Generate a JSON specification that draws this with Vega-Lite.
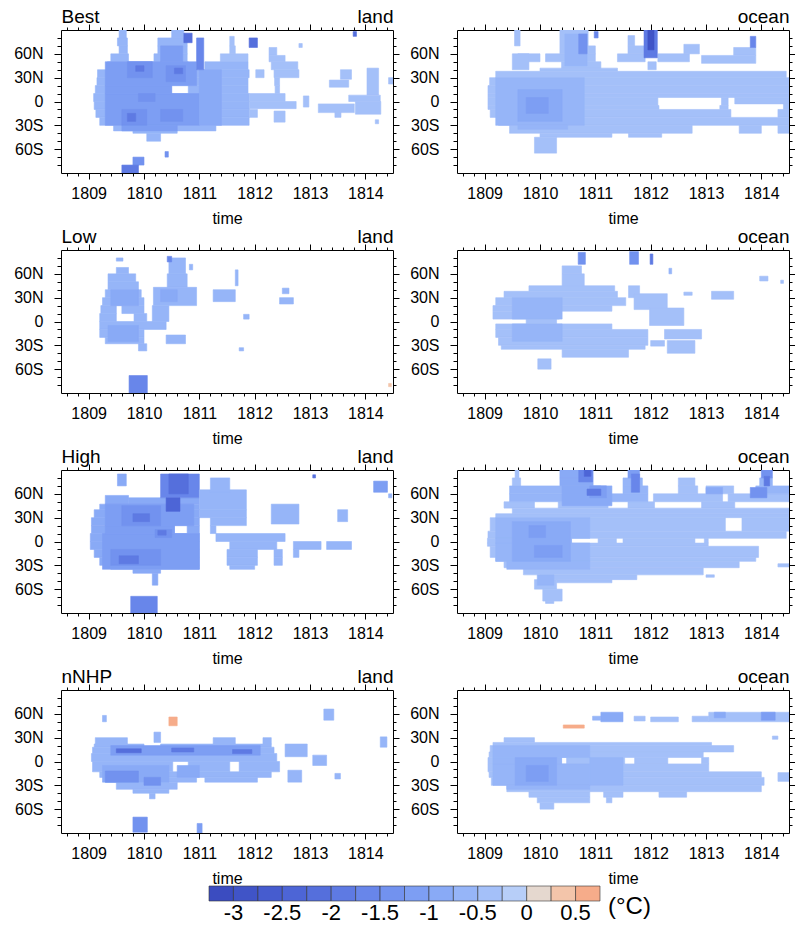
{
"$schema":"https://vega.github.io/schema/vega-lite/v6.json",
"padding":{"left":13,"top":7,"right":0,"bottom":2},
"background":"white",
"config":{"font":"Liberation Sans","view":{"stroke":null},
 "axis":{"grid":false,"domainColor":"black","domainWidth":1,"tickColor":"black","tickWidth":1,"labelColor":"black","labelFontSize":16,"titleColor":"black","titleFontWeight":"normal","labelFlush":false,"labelOverlap":false,"zindex":1}},
"data":{"values":[
{"p":1,"y0":80,"y1":90,"t0":1809.55,"t1":1809.68,"v":-0.625},
{"p":1,"y0":80,"y1":90,"t0":1810.5,"t1":1810.72,"v":-0.625},
{"p":1,"y0":70,"y1":80,"t0":1809.52,"t1":1809.7,"v":-0.625},
{"p":1,"y0":70,"y1":80,"t0":1810.25,"t1":1810.78,"v":-0.625},
{"p":1,"y0":70,"y1":82,"t0":1811.55,"t1":1811.63,"v":-0.375},
{"p":1,"y0":60,"y1":70,"t0":1809.55,"t1":1809.7,"v":-0.625},
{"p":1,"y0":60,"y1":70,"t0":1810.25,"t1":1810.78,"v":-0.625},
{"p":1,"y0":60,"y1":70,"t0":1811.55,"t1":1811.65,"v":-0.375},
{"p":1,"y0":58,"y1":68,"t0":1812.26,"t1":1812.4,"v":-0.375},
{"p":1,"y0":50,"y1":60,"t0":1809.4,"t1":1809.72,"v":-0.625},
{"p":1,"y0":50,"y1":60,"t0":1810.18,"t1":1810.78,"v":-0.625},
{"p":1,"y0":50,"y1":60,"t0":1811.38,"t1":1811.88,"v":-0.375},
{"p":1,"y0":50,"y1":58,"t0":1812.26,"t1":1812.55,"v":-0.375},
{"p":1,"y0":40,"y1":50,"t0":1809.34,"t1":1810.8,"v":-0.625},
{"p":1,"y0":40,"y1":50,"t0":1811.1,"t1":1811.88,"v":-0.625},
{"p":1,"y0":40,"y1":50,"t0":1812.3,"t1":1812.78,"v":-0.375},
{"p":1,"y0":30,"y1":40,"t0":1809.16,"t1":1811.9,"v":-0.625},
{"p":1,"y0":30,"y1":40,"t0":1812.02,"t1":1812.17,"v":-0.375},
{"p":1,"y0":30,"y1":40,"t0":1812.35,"t1":1812.8,"v":-0.375},
{"p":1,"y0":28,"y1":40,"t0":1813.55,"t1":1813.75,"v":-0.375},
{"p":1,"y0":8,"y1":42,"t0":1814.03,"t1":1814.24,"v":-0.375},
{"p":1,"y0":20,"y1":30,"t0":1809.15,"t1":1811.88,"v":-0.625},
{"p":1,"y0":20,"y1":30,"t0":1812.36,"t1":1812.45,"v":-0.375},
{"p":1,"y0":18,"y1":27,"t0":1813.35,"t1":1813.7,"v":-0.375},
{"p":1,"y0":22,"y1":30,"t0":1814.42,"t1":1814.5,"v":-0.375},
{"p":1,"y0":10,"y1":20,"t0":1809.12,"t1":1810.5,"v":-0.625},
{"p":1,"y0":10,"y1":20,"t0":1810.8,"t1":1811.88,"v":-0.625},
{"p":1,"y0":10,"y1":20,"t0":1812.37,"t1":1812.45,"v":-0.375},
{"p":1,"y0":0,"y1":10,"t0":1809.09,"t1":1811.9,"v":-0.625},
{"p":1,"y0":0,"y1":10,"t0":1811.9,"t1":1812.55,"v":-0.375},
{"p":1,"y0":-7,"y1":7,"t0":1812.88,"t1":1812.98,"v":-0.375},
{"p":1,"y0":0,"y1":8,"t0":1813.7,"t1":1814.27,"v":-0.375},
{"p":1,"y0":-10,"y1":0,"t0":1809.1,"t1":1811.9,"v":-0.625},
{"p":1,"y0":-9,"y1":0,"t0":1811.9,"t1":1812.75,"v":-0.375},
{"p":1,"y0":-14,"y1":-3,"t0":1813.15,"t1":1813.8,"v":-0.375},
{"p":1,"y0":-16,"y1":0,"t0":1813.82,"t1":1814.28,"v":-0.375},
{"p":1,"y0":-20,"y1":-10,"t0":1809.13,"t1":1811.9,"v":-0.625},
{"p":1,"y0":-20,"y1":-10,"t0":1811.9,"t1":1812.05,"v":-0.375},
{"p":1,"y0":-26,"y1":-12,"t0":1812.35,"t1":1812.55,"v":-0.375},
{"p":1,"y0":-20,"y1":-13,"t0":1813.45,"t1":1813.56,"v":-0.375},
{"p":1,"y0":-30,"y1":-20,"t0":1809.2,"t1":1811.9,"v":-0.625},
{"p":1,"y0":-28,"y1":-23,"t0":1814.18,"t1":1814.24,"v":-0.375},
{"p":1,"y0":-37,"y1":-30,"t0":1809.45,"t1":1811.3,"v":-0.625},
{"p":1,"y0":-40,"y1":-37,"t0":1809.8,"t1":1810.6,"v":-0.625},
{"p":1,"y0":-50,"y1":-40,"t0":1810.05,"t1":1810.3,"v":-0.625},
{"p":1,"y0":-70,"y1":-63,"t0":1810.38,"t1":1810.44,"v":-1.375},
{"p":1,"y0":-80,"y1":-70,"t0":1809.8,"t1":1810.0,"v":-1.375},
{"p":1,"y0":-90,"y1":-80,"t0":1809.6,"t1":1809.9,"v":-1.875},
{"p":1,"y0":82,"y1":88,"t0":1813.78,"t1":1813.84,"v":-2.125},
{"p":1,"y0":68,"y1":73,"t0":1812.8,"t1":1812.86,"v":-0.375},
{"p":1,"y0":20,"y1":50,"t0":1809.3,"t1":1810.95,"v":-1.125},
{"p":1,"y0":-30,"y1":10,"t0":1809.3,"t1":1811.0,"v":-1.125},
{"p":1,"y0":10,"y1":20,"t0":1809.3,"t1":1810.5,"v":-1.125},
{"p":1,"y0":-37,"y1":-30,"t0":1809.6,"t1":1810.6,"v":-1.125},
{"p":1,"y0":50,"y1":70,"t0":1810.3,"t1":1810.7,"v":-1.125},
{"p":1,"y0":-30,"y1":40,"t0":1811.0,"t1":1811.4,"v":-0.875},
{"p":1,"y0":30,"y1":50,"t0":1809.7,"t1":1810.15,"v":-1.375},
{"p":1,"y0":25,"y1":45,"t0":1810.4,"t1":1810.75,"v":-1.375},
{"p":1,"y0":-30,"y1":-10,"t0":1809.6,"t1":1810.05,"v":-1.375},
{"p":1,"y0":-25,"y1":-10,"t0":1810.3,"t1":1810.7,"v":-1.375},
{"p":1,"y0":0,"y1":10,"t0":1809.9,"t1":1810.2,"v":-1.375},
{"p":1,"y0":38,"y1":45,"t0":1809.85,"t1":1810.0,"v":-1.875},
{"p":1,"y0":-25,"y1":-15,"t0":1809.7,"t1":1809.85,"v":-1.875},
{"p":1,"y0":35,"y1":42,"t0":1810.55,"t1":1810.7,"v":-1.875},
{"p":1,"y0":40,"y1":80,"t0":1810.95,"t1":1811.08,"v":-1.625},
{"p":1,"y0":74,"y1":86,"t0":1810.72,"t1":1810.87,"v":-2.125},
{"p":1,"y0":68,"y1":80,"t0":1811.9,"t1":1812.05,"v":-2.125},

{"p":2,"y0":70,"y1":90,"t0":1809.54,"t1":1809.64,"v":-0.375},
{"p":2,"y0":60,"y1":90,"t0":1810.36,"t1":1810.87,"v":-0.375},
{"p":2,"y0":70,"y1":83,"t0":1811.59,"t1":1811.71,"v":-0.375},
{"p":2,"y0":60,"y1":70,"t0":1810.87,"t1":1811.0,"v":-0.375},
{"p":2,"y0":60,"y1":70,"t0":1811.59,"t1":1811.89,"v":-0.375},
{"p":2,"y0":60,"y1":72,"t0":1812.6,"t1":1812.88,"v":-0.375},
{"p":2,"y0":58,"y1":68,"t0":1813.5,"t1":1813.9,"v":-0.375},
{"p":2,"y0":50,"y1":60,"t0":1809.6,"t1":1810.0,"v":-0.375},
{"p":2,"y0":50,"y1":60,"t0":1810.1,"t1":1811.0,"v":-0.375},
{"p":2,"y0":50,"y1":60,"t0":1811.4,"t1":1811.9,"v":-0.375},
{"p":2,"y0":50,"y1":60,"t0":1812.13,"t1":1812.7,"v":-0.375},
{"p":2,"y0":48,"y1":58,"t0":1812.92,"t1":1813.9,"v":-0.375},
{"p":2,"y0":40,"y1":60,"t0":1809.5,"t1":1809.8,"v":-0.375},
{"p":2,"y0":40,"y1":50,"t0":1810.39,"t1":1811.1,"v":-0.375},
{"p":2,"y0":40,"y1":50,"t0":1811.95,"t1":1812.1,"v":-0.375},
{"p":2,"y0":38,"y1":42,"t0":1810.0,"t1":1811.4,"v":-0.375},
{"p":2,"y0":30,"y1":38,"t0":1809.2,"t1":1814.45,"v":-0.375},
{"p":2,"y0":20,"y1":30,"t0":1809.09,"t1":1814.5,"v":-0.375},
{"p":2,"y0":10,"y1":20,"t0":1809.06,"t1":1814.5,"v":-0.375},
{"p":2,"y0":5,"y1":10,"t0":1809.06,"t1":1814.5,"v":-0.375},
{"p":2,"y0":-5,"y1":5,"t0":1809.06,"t1":1812.13,"v":-0.375},
{"p":2,"y0":-5,"y1":5,"t0":1813.28,"t1":1813.4,"v":-0.375},
{"p":2,"y0":-3,"y1":5,"t0":1813.52,"t1":1814.5,"v":-0.375},
{"p":2,"y0":-10,"y1":-5,"t0":1809.06,"t1":1812.15,"v":-0.375},
{"p":2,"y0":-10,"y1":-5,"t0":1813.25,"t1":1813.4,"v":-0.375},
{"p":2,"y0":-10,"y1":-3,"t0":1814.4,"t1":1814.5,"v":-0.375},
{"p":2,"y0":-20,"y1":-10,"t0":1809.1,"t1":1813.45,"v":-0.375},
{"p":2,"y0":-20,"y1":-10,"t0":1814.3,"t1":1814.5,"v":-0.375},
{"p":2,"y0":-30,"y1":-20,"t0":1809.25,"t1":1814.5,"v":-0.375},
{"p":2,"y0":-40,"y1":-30,"t0":1809.45,"t1":1812.75,"v":-0.375},
{"p":2,"y0":-40,"y1":-30,"t0":1813.6,"t1":1814.0,"v":-0.375},
{"p":2,"y0":-40,"y1":-30,"t0":1814.3,"t1":1814.5,"v":-0.375},
{"p":2,"y0":-45,"y1":-40,"t0":1810.0,"t1":1811.3,"v":-0.375},
{"p":2,"y0":-45,"y1":-40,"t0":1811.6,"t1":1812.2,"v":-0.375},
{"p":2,"y0":-65,"y1":-45,"t0":1809.9,"t1":1810.3,"v":-0.375},
{"p":2,"y0":-30,"y1":30,"t0":1809.2,"t1":1810.8,"v":-0.625},
{"p":2,"y0":-35,"y1":-30,"t0":1809.6,"t1":1810.5,"v":-0.625},
{"p":2,"y0":45,"y1":85,"t0":1810.45,"t1":1810.85,"v":-0.625},
{"p":2,"y0":-25,"y1":15,"t0":1809.6,"t1":1810.4,"v":-0.875},
{"p":2,"y0":-15,"y1":5,"t0":1809.75,"t1":1810.15,"v":-1.125},
{"p":2,"y0":60,"y1":85,"t0":1810.7,"t1":1810.85,"v":-1.375},
{"p":2,"y0":80,"y1":88,"t0":1810.98,"t1":1811.05,"v":-1.625},
{"p":2,"y0":68,"y1":82,"t0":1813.8,"t1":1813.9,"v":-1.625},
{"p":2,"y0":55,"y1":90,"t0":1811.88,"t1":1812.12,"v":-1.875},
{"p":2,"y0":65,"y1":90,"t0":1811.95,"t1":1812.06,"v":-2.875},

{"p":3,"y0":76,"y1":80,"t0":1809.5,"t1":1809.62,"v":-0.625},
{"p":3,"y0":60,"y1":68,"t0":1809.5,"t1":1809.72,"v":-0.625},
{"p":3,"y0":50,"y1":60,"t0":1809.35,"t1":1809.85,"v":-0.625},
{"p":3,"y0":40,"y1":50,"t0":1809.35,"t1":1809.9,"v":-0.625},
{"p":3,"y0":30,"y1":40,"t0":1809.3,"t1":1809.95,"v":-0.625},
{"p":3,"y0":20,"y1":30,"t0":1809.25,"t1":1810.0,"v":-0.625},
{"p":3,"y0":10,"y1":20,"t0":1809.22,"t1":1809.5,"v":-0.625},
{"p":3,"y0":10,"y1":20,"t0":1809.6,"t1":1810.0,"v":-0.625},
{"p":3,"y0":0,"y1":10,"t0":1809.2,"t1":1809.5,"v":-0.625},
{"p":3,"y0":0,"y1":10,"t0":1809.82,"t1":1810.05,"v":-0.625},
{"p":3,"y0":-10,"y1":0,"t0":1809.2,"t1":1810.4,"v":-0.625},
{"p":3,"y0":-20,"y1":-10,"t0":1809.2,"t1":1810.0,"v":-0.625},
{"p":3,"y0":-28,"y1":-20,"t0":1809.3,"t1":1810.0,"v":-0.625},
{"p":3,"y0":-37,"y1":-28,"t0":1809.9,"t1":1810.05,"v":-0.625},
{"p":3,"y0":60,"y1":80,"t0":1810.45,"t1":1810.75,"v":-0.625},
{"p":3,"y0":43,"y1":60,"t0":1810.42,"t1":1810.78,"v":-0.625},
{"p":3,"y0":20,"y1":43,"t0":1810.17,"t1":1810.95,"v":-0.625},
{"p":3,"y0":0,"y1":20,"t0":1810.15,"t1":1810.45,"v":-0.625},
{"p":3,"y0":-28,"y1":-17,"t0":1810.4,"t1":1810.75,"v":-0.625},
{"p":3,"y0":65,"y1":72,"t0":1810.82,"t1":1810.88,"v":-0.625},
{"p":3,"y0":25,"y1":40,"t0":1811.25,"t1":1811.65,"v":-0.625},
{"p":3,"y0":45,"y1":65,"t0":1811.65,"t1":1811.7,"v":-0.625},
{"p":3,"y0":3,"y1":9,"t0":1811.8,"t1":1811.9,"v":-0.625},
{"p":3,"y0":-37,"y1":-33,"t0":1811.72,"t1":1811.8,"v":-0.625},
{"p":3,"y0":35,"y1":42,"t0":1812.5,"t1":1812.62,"v":-0.625},
{"p":3,"y0":22,"y1":30,"t0":1812.45,"t1":1812.7,"v":-0.625},
{"p":3,"y0":-90,"y1":-68,"t0":1809.73,"t1":1810.06,"v":-1.625},
{"p":3,"y0":75,"y1":82,"t0":1810.42,"t1":1810.5,"v":-1.625},
{"p":3,"y0":-82,"y1":-78,"t0":1814.42,"t1":1814.47,"v":0.375},
{"p":3,"y0":20,"y1":40,"t0":1809.4,"t1":1809.9,"v":-0.875},
{"p":3,"y0":-25,"y1":-5,"t0":1809.35,"t1":1809.9,"v":-0.875},
{"p":3,"y0":25,"y1":40,"t0":1810.3,"t1":1810.6,"v":-0.875},

{"p":4,"y0":60,"y1":70,"t0":1810.4,"t1":1810.75,"v":-0.375},
{"p":4,"y0":43,"y1":60,"t0":1810.4,"t1":1810.8,"v":-0.375},
{"p":4,"y0":38,"y1":45,"t0":1809.8,"t1":1811.35,"v":-0.375},
{"p":4,"y0":30,"y1":38,"t0":1809.35,"t1":1811.4,"v":-0.375},
{"p":4,"y0":20,"y1":30,"t0":1809.2,"t1":1811.55,"v":-0.375},
{"p":4,"y0":30,"y1":45,"t0":1811.6,"t1":1811.8,"v":-0.375},
{"p":4,"y0":15,"y1":35,"t0":1811.7,"t1":1812.3,"v":-0.375},
{"p":4,"y0":13,"y1":20,"t0":1809.15,"t1":1811.3,"v":-0.375},
{"p":4,"y0":3,"y1":13,"t0":1809.15,"t1":1810.35,"v":-0.375},
{"p":4,"y0":-3,"y1":3,"t0":1809.75,"t1":1810.3,"v":-0.375},
{"p":4,"y0":-10,"y1":-3,"t0":1809.2,"t1":1811.3,"v":-0.375},
{"p":4,"y0":-20,"y1":-10,"t0":1809.2,"t1":1811.95,"v":-0.375},
{"p":4,"y0":-30,"y1":-20,"t0":1809.25,"t1":1811.95,"v":-0.375},
{"p":4,"y0":-35,"y1":-30,"t0":1809.3,"t1":1811.9,"v":-0.375},
{"p":4,"y0":-45,"y1":-35,"t0":1810.4,"t1":1811.6,"v":-0.375},
{"p":4,"y0":-5,"y1":17,"t0":1811.98,"t1":1812.6,"v":-0.375},
{"p":4,"y0":-22,"y1":-10,"t0":1812.25,"t1":1812.92,"v":-0.375},
{"p":4,"y0":-31,"y1":-24,"t0":1812.0,"t1":1812.25,"v":-0.375},
{"p":4,"y0":-40,"y1":-24,"t0":1812.3,"t1":1812.8,"v":-0.375},
{"p":4,"y0":28,"y1":38,"t0":1813.1,"t1":1813.5,"v":-0.375},
{"p":4,"y0":33,"y1":37,"t0":1812.6,"t1":1812.75,"v":-0.375},
{"p":4,"y0":51,"y1":57,"t0":1813.97,"t1":1814.12,"v":-0.375},
{"p":4,"y0":48,"y1":52,"t0":1814.35,"t1":1814.4,"v":-0.375},
{"p":4,"y0":-60,"y1":-47,"t0":1809.96,"t1":1810.2,"v":-0.375},
{"p":4,"y0":60,"y1":67,"t0":1812.33,"t1":1812.38,"v":-0.625},
{"p":4,"y0":72,"y1":87,"t0":1810.69,"t1":1810.82,"v":-1.375},
{"p":4,"y0":72,"y1":88,"t0":1811.62,"t1":1811.78,"v":-1.375},
{"p":4,"y0":72,"y1":85,"t0":1811.99,"t1":1812.04,"v":-1.875},
{"p":4,"y0":3,"y1":30,"t0":1809.5,"t1":1810.4,"v":-0.625},
{"p":4,"y0":-25,"y1":-3,"t0":1809.5,"t1":1810.4,"v":-0.625},

{"p":5,"y0":70,"y1":85,"t0":1809.52,"t1":1809.68,"v":-0.875},
{"p":5,"y0":47,"y1":58,"t0":1809.3,"t1":1809.72,"v":-0.875},
{"p":5,"y0":47,"y1":55,"t0":1809.72,"t1":1811.0,"v":-0.875},
{"p":5,"y0":55,"y1":85,"t0":1810.3,"t1":1811.0,"v":-1.625},
{"p":5,"y0":40,"y1":47,"t0":1809.2,"t1":1811.0,"v":-0.875},
{"p":5,"y0":40,"y1":65,"t0":1811.0,"t1":1811.85,"v":-0.625},
{"p":5,"y0":62,"y1":80,"t0":1811.2,"t1":1811.55,"v":-0.625},
{"p":5,"y0":30,"y1":40,"t0":1809.1,"t1":1811.0,"v":-0.875},
{"p":5,"y0":30,"y1":40,"t0":1811.0,"t1":1811.85,"v":-0.625},
{"p":5,"y0":20,"y1":30,"t0":1809.05,"t1":1811.0,"v":-0.875},
{"p":5,"y0":20,"y1":30,"t0":1811.2,"t1":1811.85,"v":-0.625},
{"p":5,"y0":10,"y1":20,"t0":1809.05,"t1":1810.55,"v":-0.875},
{"p":5,"y0":10,"y1":20,"t0":1810.78,"t1":1811.0,"v":-0.875},
{"p":5,"y0":10,"y1":20,"t0":1811.2,"t1":1811.3,"v":-0.625},
{"p":5,"y0":0,"y1":10,"t0":1809.03,"t1":1811.0,"v":-0.875},
{"p":5,"y0":0,"y1":10,"t0":1811.3,"t1":1812.55,"v":-0.625},
{"p":5,"y0":-10,"y1":0,"t0":1809.03,"t1":1811.0,"v":-0.875},
{"p":5,"y0":-10,"y1":0,"t0":1811.55,"t1":1812.4,"v":-0.625},
{"p":5,"y0":-10,"y1":0,"t0":1812.7,"t1":1813.2,"v":-0.625},
{"p":5,"y0":-10,"y1":0,"t0":1813.3,"t1":1813.75,"v":-0.625},
{"p":5,"y0":-20,"y1":-10,"t0":1809.1,"t1":1811.0,"v":-0.875},
{"p":5,"y0":-20,"y1":-10,"t0":1811.5,"t1":1812.05,"v":-0.625},
{"p":5,"y0":-20,"y1":-10,"t0":1812.35,"t1":1812.5,"v":-0.625},
{"p":5,"y0":-20,"y1":-10,"t0":1812.7,"t1":1812.8,"v":-0.625},
{"p":5,"y0":-30,"y1":-20,"t0":1809.2,"t1":1811.0,"v":-0.875},
{"p":5,"y0":-30,"y1":-20,"t0":1811.5,"t1":1812.05,"v":-0.625},
{"p":5,"y0":-30,"y1":-20,"t0":1812.35,"t1":1812.5,"v":-0.625},
{"p":5,"y0":-35,"y1":-30,"t0":1809.4,"t1":1811.0,"v":-0.875},
{"p":5,"y0":-35,"y1":-30,"t0":1811.55,"t1":1812.0,"v":-0.625},
{"p":5,"y0":-40,"y1":-35,"t0":1809.8,"t1":1810.3,"v":-0.875},
{"p":5,"y0":-55,"y1":-40,"t0":1810.15,"t1":1810.25,"v":-0.875},
{"p":5,"y0":-90,"y1":-69,"t0":1809.76,"t1":1810.24,"v":-1.625},
{"p":5,"y0":22,"y1":47,"t0":1812.3,"t1":1812.8,"v":-0.625},
{"p":5,"y0":25,"y1":40,"t0":1813.5,"t1":1813.68,"v":-0.625},
{"p":5,"y0":62,"y1":76,"t0":1814.15,"t1":1814.4,"v":-1.125},
{"p":5,"y0":55,"y1":60,"t0":1814.42,"t1":1814.48,"v":-0.625},
{"p":5,"y0":80,"y1":84,"t0":1813.05,"t1":1813.1,"v":-2.125},
{"p":5,"y0":-35,"y1":10,"t0":1809.25,"t1":1811.0,"v":-1.125},
{"p":5,"y0":20,"y1":47,"t0":1809.3,"t1":1810.9,"v":-1.125},
{"p":5,"y0":10,"y1":20,"t0":1809.3,"t1":1810.55,"v":-1.125},
{"p":5,"y0":-30,"y1":-10,"t0":1809.4,"t1":1810.3,"v":-1.375},
{"p":5,"y0":20,"y1":45,"t0":1809.6,"t1":1810.3,"v":-1.375},
{"p":5,"y0":5,"y1":15,"t0":1810.2,"t1":1810.5,"v":-1.375},
{"p":5,"y0":-28,"y1":-18,"t0":1809.55,"t1":1809.9,"v":-1.875},
{"p":5,"y0":25,"y1":35,"t0":1809.8,"t1":1810.1,"v":-1.875},
{"p":5,"y0":8,"y1":14,"t0":1810.25,"t1":1810.4,"v":-1.875},
{"p":5,"y0":60,"y1":85,"t0":1810.45,"t1":1810.8,"v":-2.125},
{"p":5,"y0":38,"y1":55,"t0":1810.4,"t1":1810.65,"v":-2.375},

{"p":6,"y0":80,"y1":90,"t0":1809.55,"t1":1809.62,"v":-0.375},
{"p":6,"y0":70,"y1":80,"t0":1809.5,"t1":1809.65,"v":-0.375},
{"p":6,"y0":70,"y1":80,"t0":1812.5,"t1":1812.8,"v":-0.375},
{"p":6,"y0":60,"y1":70,"t0":1812.5,"t1":1812.85,"v":-0.375},
{"p":6,"y0":60,"y1":70,"t0":1813.0,"t1":1813.5,"v":-0.375},
{"p":6,"y0":50,"y1":60,"t0":1812.05,"t1":1813.3,"v":-0.375},
{"p":6,"y0":50,"y1":60,"t0":1813.4,"t1":1814.5,"v":-0.375},
{"p":6,"y0":42,"y1":50,"t0":1809.35,"t1":1809.9,"v":-0.375},
{"p":6,"y0":42,"y1":50,"t0":1810.33,"t1":1811.23,"v":-0.375},
{"p":6,"y0":42,"y1":50,"t0":1811.59,"t1":1812.07,"v":-0.375},
{"p":6,"y0":42,"y1":50,"t0":1812.92,"t1":1813.52,"v":-0.375},
{"p":6,"y0":35,"y1":42,"t0":1809.5,"t1":1814.5,"v":-0.375},
{"p":6,"y0":30,"y1":35,"t0":1809.2,"t1":1814.5,"v":-0.375},
{"p":6,"y0":13,"y1":30,"t0":1809.1,"t1":1813.35,"v":-0.375},
{"p":6,"y0":13,"y1":30,"t0":1813.65,"t1":1814.5,"v":-0.375},
{"p":6,"y0":4,"y1":13,"t0":1809.06,"t1":1814.45,"v":-0.375},
{"p":6,"y0":-2,"y1":4,"t0":1809.05,"t1":1810.57,"v":-0.375},
{"p":6,"y0":-2,"y1":4,"t0":1811.05,"t1":1811.38,"v":-0.375},
{"p":6,"y0":-2,"y1":4,"t0":1811.5,"t1":1812.8,"v":-0.375},
{"p":6,"y0":-2,"y1":4,"t0":1812.97,"t1":1813.04,"v":-0.375},
{"p":6,"y0":-6,"y1":-2,"t0":1809.05,"t1":1813.04,"v":-0.375},
{"p":6,"y0":-20,"y1":-6,"t0":1809.1,"t1":1813.95,"v":-0.375},
{"p":6,"y0":-25,"y1":-20,"t0":1809.2,"t1":1813.9,"v":-0.375},
{"p":6,"y0":-33,"y1":-25,"t0":1809.35,"t1":1813.6,"v":-0.375},
{"p":6,"y0":-32,"y1":-28,"t0":1814.3,"t1":1814.5,"v":-0.375},
{"p":6,"y0":-42,"y1":-33,"t0":1809.7,"t1":1812.95,"v":-0.375},
{"p":6,"y0":-48,"y1":-42,"t0":1810.0,"t1":1811.75,"v":-0.375},
{"p":6,"y0":-52,"y1":-48,"t0":1810.3,"t1":1811.3,"v":-0.375},
{"p":6,"y0":-60,"y1":-48,"t0":1809.9,"t1":1810.3,"v":-0.375},
{"p":6,"y0":-75,"y1":-60,"t0":1810.05,"t1":1810.4,"v":-0.375},
{"p":6,"y0":-78,"y1":-75,"t0":1810.1,"t1":1810.25,"v":-0.375},
{"p":6,"y0":-45,"y1":-42,"t0":1813.0,"t1":1813.15,"v":-0.375},
{"p":6,"y0":80,"y1":90,"t0":1810.36,"t1":1810.96,"v":-0.875},
{"p":6,"y0":70,"y1":80,"t0":1810.36,"t1":1810.96,"v":-0.875},
{"p":6,"y0":60,"y1":70,"t0":1809.45,"t1":1811.1,"v":-0.625},
{"p":6,"y0":70,"y1":80,"t0":1811.5,"t1":1811.85,"v":-0.625},
{"p":6,"y0":60,"y1":70,"t0":1811.5,"t1":1811.95,"v":-0.625},
{"p":6,"y0":70,"y1":80,"t0":1813.97,"t1":1814.2,"v":-0.625},
{"p":6,"y0":60,"y1":70,"t0":1813.9,"t1":1814.5,"v":-0.625},
{"p":6,"y0":50,"y1":60,"t0":1809.45,"t1":1811.95,"v":-0.625},
{"p":6,"y0":80,"y1":90,"t0":1811.59,"t1":1811.8,"v":-1.125},
{"p":6,"y0":80,"y1":90,"t0":1814.0,"t1":1814.2,"v":-1.375},
{"p":6,"y0":4,"y1":30,"t0":1809.2,"t1":1810.9,"v":-0.625},
{"p":6,"y0":-25,"y1":-2,"t0":1809.2,"t1":1810.9,"v":-0.625},
{"p":6,"y0":-35,"y1":-25,"t0":1809.4,"t1":1810.9,"v":-0.625},
{"p":6,"y0":-2,"y1":4,"t0":1809.2,"t1":1810.57,"v":-0.625},
{"p":6,"y0":-55,"y1":-42,"t0":1809.95,"t1":1810.25,"v":-0.625},
{"p":6,"y0":-25,"y1":25,"t0":1809.5,"t1":1810.55,"v":-0.875},
{"p":6,"y0":45,"y1":70,"t0":1810.4,"t1":1811.3,"v":-0.875},
{"p":6,"y0":60,"y1":68,"t0":1813.0,"t1":1813.3,"v":-0.875},
{"p":6,"y0":5,"y1":20,"t0":1809.8,"t1":1810.1,"v":-1.125},
{"p":6,"y0":-20,"y1":-5,"t0":1809.9,"t1":1810.4,"v":-1.125},
{"p":6,"y0":55,"y1":70,"t0":1810.9,"t1":1811.2,"v":-1.125},
{"p":6,"y0":55,"y1":68,"t0":1813.8,"t1":1814.1,"v":-1.375},
{"p":6,"y0":75,"y1":90,"t0":1810.7,"t1":1810.95,"v":-1.625},
{"p":6,"y0":62,"y1":85,"t0":1811.65,"t1":1811.8,"v":-1.625},
{"p":6,"y0":58,"y1":66,"t0":1810.85,"t1":1811.1,"v":-1.875},
{"p":6,"y0":70,"y1":82,"t0":1814.05,"t1":1814.15,"v":-1.875},
{"p":6,"y0":82,"y1":90,"t0":1810.8,"t1":1810.92,"v":-2.375},

{"p":7,"y0":22,"y1":30,"t0":1809.12,"t1":1809.7,"v":-0.625},
{"p":7,"y0":22,"y1":30,"t0":1811.25,"t1":1811.65,"v":-0.625},
{"p":7,"y0":22,"y1":30,"t0":1812.15,"t1":1812.3,"v":-0.625},
{"p":7,"y0":18,"y1":22,"t0":1809.1,"t1":1810.0,"v":-0.625},
{"p":7,"y0":18,"y1":22,"t0":1810.3,"t1":1812.3,"v":-0.625},
{"p":7,"y0":10,"y1":18,"t0":1809.07,"t1":1812.35,"v":-0.625},
{"p":7,"y0":0,"y1":10,"t0":1809.05,"t1":1812.4,"v":-0.625},
{"p":7,"y0":-13,"y1":0,"t0":1809.07,"t1":1810.52,"v":-0.625},
{"p":7,"y0":-13,"y1":0,"t0":1810.8,"t1":1811.55,"v":-0.625},
{"p":7,"y0":-13,"y1":0,"t0":1811.72,"t1":1812.45,"v":-0.625},
{"p":7,"y0":-20,"y1":-13,"t0":1809.2,"t1":1812.3,"v":-0.625},
{"p":7,"y0":-26,"y1":-20,"t0":1809.3,"t1":1810.95,"v":-0.625},
{"p":7,"y0":-26,"y1":-20,"t0":1811.1,"t1":1812.05,"v":-0.625},
{"p":7,"y0":-35,"y1":-26,"t0":1809.5,"t1":1810.6,"v":-0.625},
{"p":7,"y0":-40,"y1":-35,"t0":1809.8,"t1":1810.45,"v":-0.625},
{"p":7,"y0":-47,"y1":-40,"t0":1810.1,"t1":1810.2,"v":-0.625},
{"p":7,"y0":6,"y1":22,"t0":1812.55,"t1":1812.95,"v":-0.625},
{"p":7,"y0":-26,"y1":-11,"t0":1812.6,"t1":1812.85,"v":-0.625},
{"p":7,"y0":-5,"y1":8,"t0":1813.05,"t1":1813.3,"v":-0.625},
{"p":7,"y0":-22,"y1":-15,"t0":1813.45,"t1":1813.55,"v":-0.625},
{"p":7,"y0":52,"y1":66,"t0":1813.25,"t1":1813.43,"v":-0.625},
{"p":7,"y0":18,"y1":31,"t0":1814.27,"t1":1814.39,"v":-0.625},
{"p":7,"y0":24,"y1":37,"t0":1810.18,"t1":1810.3,"v":-0.625},
{"p":7,"y0":50,"y1":58,"t0":1809.25,"t1":1809.32,"v":-0.625},
{"p":7,"y0":45,"y1":56,"t0":1810.45,"t1":1810.6,"v":0.625},
{"p":7,"y0":-89,"y1":-70,"t0":1809.8,"t1":1810.06,"v":-1.375},
{"p":7,"y0":-90,"y1":-78,"t0":1810.96,"t1":1811.05,"v":-1.125},
{"p":7,"y0":-26,"y1":-5,"t0":1809.25,"t1":1810.45,"v":-0.875},
{"p":7,"y0":-20,"y1":-5,"t0":1810.6,"t1":1811.0,"v":-0.875},
{"p":7,"y0":8,"y1":20,"t0":1809.4,"t1":1812.1,"v":-1.125},
{"p":7,"y0":-26,"y1":-12,"t0":1809.3,"t1":1809.9,"v":-1.375},
{"p":7,"y0":-30,"y1":-20,"t0":1810.0,"t1":1810.3,"v":-1.375},
{"p":7,"y0":11,"y1":16,"t0":1809.5,"t1":1809.95,"v":-2.125},
{"p":7,"y0":12,"y1":17,"t0":1810.5,"t1":1810.9,"v":-1.875},
{"p":7,"y0":10,"y1":15,"t0":1811.6,"t1":1811.95,"v":-1.875},

{"p":8,"y0":24,"y1":30,"t0":1809.35,"t1":1809.9,"v":-0.375},
{"p":8,"y0":20,"y1":24,"t0":1809.15,"t1":1813.1,"v":-0.375},
{"p":8,"y0":12,"y1":20,"t0":1809.1,"t1":1813.5,"v":-0.375},
{"p":8,"y0":5,"y1":12,"t0":1809.08,"t1":1812.95,"v":-0.375},
{"p":8,"y0":-3,"y1":5,"t0":1809.06,"t1":1810.39,"v":-0.375},
{"p":8,"y0":-3,"y1":5,"t0":1810.48,"t1":1811.53,"v":-0.375},
{"p":8,"y0":-3,"y1":5,"t0":1811.71,"t1":1812.31,"v":-0.375},
{"p":8,"y0":-3,"y1":5,"t0":1812.92,"t1":1813.05,"v":-0.375},
{"p":8,"y0":-13,"y1":-3,"t0":1809.06,"t1":1813.05,"v":-0.375},
{"p":8,"y0":-20,"y1":-13,"t0":1809.08,"t1":1814.0,"v":-0.375},
{"p":8,"y0":-30,"y1":-20,"t0":1809.12,"t1":1814.05,"v":-0.375},
{"p":8,"y0":-38,"y1":-30,"t0":1809.4,"t1":1814.0,"v":-0.375},
{"p":8,"y0":-45,"y1":-38,"t0":1809.8,"t1":1810.9,"v":-0.375},
{"p":8,"y0":-45,"y1":-38,"t0":1811.15,"t1":1811.5,"v":-0.375},
{"p":8,"y0":-45,"y1":-38,"t0":1812.15,"t1":1812.65,"v":-0.375},
{"p":8,"y0":-52,"y1":-45,"t0":1809.95,"t1":1810.9,"v":-0.375},
{"p":8,"y0":-52,"y1":-45,"t0":1811.2,"t1":1811.3,"v":-0.375},
{"p":8,"y0":-60,"y1":-52,"t0":1810.0,"t1":1810.25,"v":-0.375},
{"p":8,"y0":52,"y1":57,"t0":1810.95,"t1":1811.1,"v":-0.625},
{"p":8,"y0":50,"y1":56,"t0":1812.0,"t1":1812.5,"v":-0.375},
{"p":8,"y0":51,"y1":57,"t0":1811.7,"t1":1811.9,"v":-0.375},
{"p":8,"y0":50,"y1":57,"t0":1812.75,"t1":1813.05,"v":-0.375},
{"p":8,"y0":50,"y1":62,"t0":1813.05,"t1":1814.5,"v":-0.375},
{"p":8,"y0":50,"y1":62,"t0":1811.1,"t1":1811.5,"v":-0.875},
{"p":8,"y0":55,"y1":62,"t0":1813.15,"t1":1813.35,"v":-0.875},
{"p":8,"y0":52,"y1":62,"t0":1814.0,"t1":1814.25,"v":-1.125},
{"p":8,"y0":42,"y1":46,"t0":1810.42,"t1":1810.8,"v":0.625},
{"p":8,"y0":-25,"y1":-14,"t0":1814.3,"t1":1814.5,"v":-0.375},
{"p":8,"y0":28,"y1":32,"t0":1814.2,"t1":1814.3,"v":-0.375},
{"p":8,"y0":5,"y1":20,"t0":1809.15,"t1":1810.9,"v":-0.625},
{"p":8,"y0":-30,"y1":-3,"t0":1809.15,"t1":1810.9,"v":-0.625},
{"p":8,"y0":-35,"y1":-30,"t0":1809.4,"t1":1810.9,"v":-0.625},
{"p":8,"y0":-3,"y1":5,"t0":1809.15,"t1":1810.39,"v":-0.625},
{"p":8,"y0":-30,"y1":5,"t0":1810.9,"t1":1811.5,"v":-0.625},
{"p":8,"y0":-30,"y1":5,"t0":1809.55,"t1":1810.3,"v":-0.875},
{"p":8,"y0":-25,"y1":-5,"t0":1809.75,"t1":1810.15,"v":-1.125}
]},
"columns":2,
"spacing":{"row":77,"column":64},
"bounds":"flush",
"resolve":{"scale":{"color":"shared","stroke":"shared"},"legend":{"color":"shared","stroke":"shared"}},
"concat":[
{"width":332,"height":143,"transform":[{"filter":"datum.p == 1"}],
 "layer":[
  {"mark":{"type":"rect","clip":true,"strokeWidth":0.6},
   "encoding":{
    "x":{"field":"t0","type":"quantitative","scale":{"domain":[1808.5,1814.5],"nice":false,"zero":false},"axis":{"orient":"bottom","values":[1809,1810,1811,1812,1813,1814],"format":"d","tickSize":6,"labelPadding":19,"labelBaseline":"alphabetic","title":"time","titleFontSize":16,"titleX":166,"titleY":50,"titleBaseline":"alphabetic","titleAlign":"center","titleAngle":0}},
    "x2":{"field":"t1"},
    "y":{"field":"y0","type":"quantitative","scale":{"domain":[-90,90],"nice":false,"zero":false},"axis":{"orient":"left","values":[-60,-30,0,30,60],"labelExpr":"datum.value > 0 ? datum.value + 'N' : datum.value < 0 ? (-datum.value) + 'S' : '0'","tickSize":7,"labelPadding":11,"title":"Best","titleFontSize":19,"titleAngle":0,"titleAlign":"left","titleBaseline":"alphabetic","titleX":0,"titleY":-8}},
    "y2":{"field":"y1"},
    "color":{"field":"v","type":"quantitative","scale":{"type":"threshold","domain":[-3,-2.75,-2.5,-2.25,-2,-1.75,-1.5,-1.25,-1,-0.75,-0.5,-0.25,0,0.25,0.5],"range":["#3b4cc0","#4054c7","#465ccf","#4d65d6","#556fdc","#5e7ae3","#6886ea","#7292ef","#7d9ef3","#89aaf6","#96b5f8","#a4c0f9","#b7cef8","#e5d8cf","#f3c5aa","#f6ac8a"]},
     "legend":{"type":"gradient","orient":"none","legendX":148,"legendY":856,"direction":"horizontal","gradientLength":391,"gradientThickness":15,"gradientStrokeColor":"#333333","gradientStrokeWidth":0.6,"labelFontSize":22,"labelColor":"black","labelOffset":2,"labelExpr":"abs(datum.value*2 - round(datum.value*2)) < 0.001 ? (datum.value < 0 ? '-' : '') + format(abs(datum.value), '~g') : ''","title":["","(°C)"],"titleOrient":"right","titleFontSize":24,"titleFontWeight":"normal","titleColor":"black","titlePadding":8,"titleAnchor":"start","titleBaseline":"top","titleLineHeight":9}},
    "stroke":{"field":"v","type":"quantitative","scale":{"type":"threshold","domain":[-3,-2.75,-2.5,-2.25,-2,-1.75,-1.5,-1.25,-1,-0.75,-0.5,-0.25,0,0.25,0.5],"range":["#3b4cc0","#4054c7","#465ccf","#4d65d6","#556fdc","#5e7ae3","#6886ea","#7292ef","#7d9ef3","#89aaf6","#96b5f8","#a4c0f9","#b7cef8","#e5d8cf","#f3c5aa","#f6ac8a"]},"legend":null}}},
  {"data":{"values":[{}]},"mark":{"type":"point","opacity":0},
   "encoding":{"x":{"datum":1811,"type":"quantitative","scale":{"domain":[1808.5,1814.5],"nice":false,"zero":false},"axis":{"orient":"top","values":[1809,1810,1811,1812,1813,1814],"labels":false,"tickSize":6,"title":"land","titleFontSize":19,"titleAngle":0,"titleAlign":"right","titleBaseline":"alphabetic","titleX":332,"titleY":-8}},
    "y":{"datum":0,"type":"quantitative","scale":{"domain":[-90,90],"nice":false,"zero":false},"axis":{"orient":"right","values":[-60,-30,0,30,60],"labels":false,"tickSize":6,"title":null}}}},
  {"data":{"values":[{}]},"mark":{"type":"point","opacity":0},
   "encoding":{"x":{"datum":1811,"type":"quantitative","scale":{"domain":[1808.5,1814.5],"nice":false,"zero":false},"axis":{"orient":"bottom","values":[1808.6,1808.8,1809.2,1809.4,1809.6,1809.8,1810.2,1810.4,1810.6,1810.8,1811.2,1811.4,1811.6,1811.8,1812.2,1812.4,1812.6,1812.8,1813.2,1813.4,1813.6,1813.8,1814.2,1814.4],"labels":false,"tickSize":3,"domain":false,"title":null}},
    "y":{"datum":0,"type":"quantitative","scale":{"domain":[-90,90],"nice":false,"zero":false},"axis":{"orient":"left","values":[-80,-70,-50,-40,-20,-10,10,20,40,50,70,80],"labels":false,"tickSize":4,"domain":false,"title":null}}}},
  {"data":{"values":[{}]},"mark":{"type":"point","opacity":0},
   "encoding":{"x":{"datum":1811,"type":"quantitative","scale":{"domain":[1808.5,1814.5],"nice":false,"zero":false},"axis":{"orient":"top","values":[1808.6,1808.8,1809.2,1809.4,1809.6,1809.8,1810.2,1810.4,1810.6,1810.8,1811.2,1811.4,1811.6,1811.8,1812.2,1812.4,1812.6,1812.8,1813.2,1813.4,1813.6,1813.8,1814.2,1814.4],"labels":false,"tickSize":3,"domain":false,"title":null}},
    "y":{"datum":0,"type":"quantitative","scale":{"domain":[-90,90],"nice":false,"zero":false},"axis":{"orient":"right","values":[-80,-70,-50,-40,-20,-10,10,20,40,50,70,80],"labels":false,"tickSize":3,"domain":false,"title":null}}}}
 ],
 "resolve":{"axis":{"x":"independent","y":"independent"}}},
{"width":332,"height":143,"transform":[{"filter":"datum.p == 2"}],
 "layer":[
  {"mark":{"type":"rect","clip":true,"strokeWidth":0.6},
   "encoding":{
    "x":{"field":"t0","type":"quantitative","scale":{"domain":[1808.5,1814.5],"nice":false,"zero":false},"axis":{"orient":"bottom","values":[1809,1810,1811,1812,1813,1814],"format":"d","tickSize":6,"labelPadding":19,"labelBaseline":"alphabetic","title":"time","titleFontSize":16,"titleX":166,"titleY":50,"titleBaseline":"alphabetic","titleAlign":"center","titleAngle":0}},
    "x2":{"field":"t1"},
    "y":{"field":"y0","type":"quantitative","scale":{"domain":[-90,90],"nice":false,"zero":false},"axis":{"orient":"left","values":[-60,-30,0,30,60],"labelExpr":"datum.value > 0 ? datum.value + 'N' : datum.value < 0 ? (-datum.value) + 'S' : '0'","tickSize":7,"labelPadding":11,"title":null}},
    "y2":{"field":"y1"},
    "color":{"field":"v","type":"quantitative","scale":{"type":"threshold","domain":[-3,-2.75,-2.5,-2.25,-2,-1.75,-1.5,-1.25,-1,-0.75,-0.5,-0.25,0,0.25,0.5],"range":["#3b4cc0","#4054c7","#465ccf","#4d65d6","#556fdc","#5e7ae3","#6886ea","#7292ef","#7d9ef3","#89aaf6","#96b5f8","#a4c0f9","#b7cef8","#e5d8cf","#f3c5aa","#f6ac8a"]},
     "legend":{"type":"gradient","orient":"none","legendX":148,"legendY":856,"direction":"horizontal","gradientLength":391,"gradientThickness":15,"gradientStrokeColor":"#333333","gradientStrokeWidth":0.6,"labelFontSize":22,"labelColor":"black","labelOffset":2,"labelExpr":"abs(datum.value*2 - round(datum.value*2)) < 0.001 ? (datum.value < 0 ? '-' : '') + format(abs(datum.value), '~g') : ''","title":["","(°C)"],"titleOrient":"right","titleFontSize":24,"titleFontWeight":"normal","titleColor":"black","titlePadding":8,"titleAnchor":"start","titleBaseline":"top","titleLineHeight":9}},
    "stroke":{"field":"v","type":"quantitative","scale":{"type":"threshold","domain":[-3,-2.75,-2.5,-2.25,-2,-1.75,-1.5,-1.25,-1,-0.75,-0.5,-0.25,0,0.25,0.5],"range":["#3b4cc0","#4054c7","#465ccf","#4d65d6","#556fdc","#5e7ae3","#6886ea","#7292ef","#7d9ef3","#89aaf6","#96b5f8","#a4c0f9","#b7cef8","#e5d8cf","#f3c5aa","#f6ac8a"]},"legend":null}}},
  {"data":{"values":[{}]},"mark":{"type":"point","opacity":0},
   "encoding":{"x":{"datum":1811,"type":"quantitative","scale":{"domain":[1808.5,1814.5],"nice":false,"zero":false},"axis":{"orient":"top","values":[1809,1810,1811,1812,1813,1814],"labels":false,"tickSize":6,"title":"ocean","titleFontSize":19,"titleAngle":0,"titleAlign":"right","titleBaseline":"alphabetic","titleX":332,"titleY":-8}},
    "y":{"datum":0,"type":"quantitative","scale":{"domain":[-90,90],"nice":false,"zero":false},"axis":{"orient":"right","values":[-60,-30,0,30,60],"labels":false,"tickSize":6,"title":null}}}},
  {"data":{"values":[{}]},"mark":{"type":"point","opacity":0},
   "encoding":{"x":{"datum":1811,"type":"quantitative","scale":{"domain":[1808.5,1814.5],"nice":false,"zero":false},"axis":{"orient":"bottom","values":[1808.6,1808.8,1809.2,1809.4,1809.6,1809.8,1810.2,1810.4,1810.6,1810.8,1811.2,1811.4,1811.6,1811.8,1812.2,1812.4,1812.6,1812.8,1813.2,1813.4,1813.6,1813.8,1814.2,1814.4],"labels":false,"tickSize":3,"domain":false,"title":null}},
    "y":{"datum":0,"type":"quantitative","scale":{"domain":[-90,90],"nice":false,"zero":false},"axis":{"orient":"left","values":[-80,-70,-50,-40,-20,-10,10,20,40,50,70,80],"labels":false,"tickSize":4,"domain":false,"title":null}}}},
  {"data":{"values":[{}]},"mark":{"type":"point","opacity":0},
   "encoding":{"x":{"datum":1811,"type":"quantitative","scale":{"domain":[1808.5,1814.5],"nice":false,"zero":false},"axis":{"orient":"top","values":[1808.6,1808.8,1809.2,1809.4,1809.6,1809.8,1810.2,1810.4,1810.6,1810.8,1811.2,1811.4,1811.6,1811.8,1812.2,1812.4,1812.6,1812.8,1813.2,1813.4,1813.6,1813.8,1814.2,1814.4],"labels":false,"tickSize":3,"domain":false,"title":null}},
    "y":{"datum":0,"type":"quantitative","scale":{"domain":[-90,90],"nice":false,"zero":false},"axis":{"orient":"right","values":[-80,-70,-50,-40,-20,-10,10,20,40,50,70,80],"labels":false,"tickSize":3,"domain":false,"title":null}}}}
 ],
 "resolve":{"axis":{"x":"independent","y":"independent"}}},
{"width":332,"height":143,"transform":[{"filter":"datum.p == 3"}],
 "layer":[
  {"mark":{"type":"rect","clip":true,"strokeWidth":0.6},
   "encoding":{
    "x":{"field":"t0","type":"quantitative","scale":{"domain":[1808.5,1814.5],"nice":false,"zero":false},"axis":{"orient":"bottom","values":[1809,1810,1811,1812,1813,1814],"format":"d","tickSize":6,"labelPadding":19,"labelBaseline":"alphabetic","title":"time","titleFontSize":16,"titleX":166,"titleY":50,"titleBaseline":"alphabetic","titleAlign":"center","titleAngle":0}},
    "x2":{"field":"t1"},
    "y":{"field":"y0","type":"quantitative","scale":{"domain":[-90,90],"nice":false,"zero":false},"axis":{"orient":"left","values":[-60,-30,0,30,60],"labelExpr":"datum.value > 0 ? datum.value + 'N' : datum.value < 0 ? (-datum.value) + 'S' : '0'","tickSize":7,"labelPadding":11,"title":"Low","titleFontSize":19,"titleAngle":0,"titleAlign":"left","titleBaseline":"alphabetic","titleX":0,"titleY":-8}},
    "y2":{"field":"y1"},
    "color":{"field":"v","type":"quantitative","scale":{"type":"threshold","domain":[-3,-2.75,-2.5,-2.25,-2,-1.75,-1.5,-1.25,-1,-0.75,-0.5,-0.25,0,0.25,0.5],"range":["#3b4cc0","#4054c7","#465ccf","#4d65d6","#556fdc","#5e7ae3","#6886ea","#7292ef","#7d9ef3","#89aaf6","#96b5f8","#a4c0f9","#b7cef8","#e5d8cf","#f3c5aa","#f6ac8a"]},
     "legend":{"type":"gradient","orient":"none","legendX":148,"legendY":856,"direction":"horizontal","gradientLength":391,"gradientThickness":15,"gradientStrokeColor":"#333333","gradientStrokeWidth":0.6,"labelFontSize":22,"labelColor":"black","labelOffset":2,"labelExpr":"abs(datum.value*2 - round(datum.value*2)) < 0.001 ? (datum.value < 0 ? '-' : '') + format(abs(datum.value), '~g') : ''","title":["","(°C)"],"titleOrient":"right","titleFontSize":24,"titleFontWeight":"normal","titleColor":"black","titlePadding":8,"titleAnchor":"start","titleBaseline":"top","titleLineHeight":9}},
    "stroke":{"field":"v","type":"quantitative","scale":{"type":"threshold","domain":[-3,-2.75,-2.5,-2.25,-2,-1.75,-1.5,-1.25,-1,-0.75,-0.5,-0.25,0,0.25,0.5],"range":["#3b4cc0","#4054c7","#465ccf","#4d65d6","#556fdc","#5e7ae3","#6886ea","#7292ef","#7d9ef3","#89aaf6","#96b5f8","#a4c0f9","#b7cef8","#e5d8cf","#f3c5aa","#f6ac8a"]},"legend":null}}},
  {"data":{"values":[{}]},"mark":{"type":"point","opacity":0},
   "encoding":{"x":{"datum":1811,"type":"quantitative","scale":{"domain":[1808.5,1814.5],"nice":false,"zero":false},"axis":{"orient":"top","values":[1809,1810,1811,1812,1813,1814],"labels":false,"tickSize":6,"title":"land","titleFontSize":19,"titleAngle":0,"titleAlign":"right","titleBaseline":"alphabetic","titleX":332,"titleY":-8}},
    "y":{"datum":0,"type":"quantitative","scale":{"domain":[-90,90],"nice":false,"zero":false},"axis":{"orient":"right","values":[-60,-30,0,30,60],"labels":false,"tickSize":6,"title":null}}}},
  {"data":{"values":[{}]},"mark":{"type":"point","opacity":0},
   "encoding":{"x":{"datum":1811,"type":"quantitative","scale":{"domain":[1808.5,1814.5],"nice":false,"zero":false},"axis":{"orient":"bottom","values":[1808.6,1808.8,1809.2,1809.4,1809.6,1809.8,1810.2,1810.4,1810.6,1810.8,1811.2,1811.4,1811.6,1811.8,1812.2,1812.4,1812.6,1812.8,1813.2,1813.4,1813.6,1813.8,1814.2,1814.4],"labels":false,"tickSize":3,"domain":false,"title":null}},
    "y":{"datum":0,"type":"quantitative","scale":{"domain":[-90,90],"nice":false,"zero":false},"axis":{"orient":"left","values":[-80,-70,-50,-40,-20,-10,10,20,40,50,70,80],"labels":false,"tickSize":4,"domain":false,"title":null}}}},
  {"data":{"values":[{}]},"mark":{"type":"point","opacity":0},
   "encoding":{"x":{"datum":1811,"type":"quantitative","scale":{"domain":[1808.5,1814.5],"nice":false,"zero":false},"axis":{"orient":"top","values":[1808.6,1808.8,1809.2,1809.4,1809.6,1809.8,1810.2,1810.4,1810.6,1810.8,1811.2,1811.4,1811.6,1811.8,1812.2,1812.4,1812.6,1812.8,1813.2,1813.4,1813.6,1813.8,1814.2,1814.4],"labels":false,"tickSize":3,"domain":false,"title":null}},
    "y":{"datum":0,"type":"quantitative","scale":{"domain":[-90,90],"nice":false,"zero":false},"axis":{"orient":"right","values":[-80,-70,-50,-40,-20,-10,10,20,40,50,70,80],"labels":false,"tickSize":3,"domain":false,"title":null}}}}
 ],
 "resolve":{"axis":{"x":"independent","y":"independent"}}},
{"width":332,"height":143,"transform":[{"filter":"datum.p == 4"}],
 "layer":[
  {"mark":{"type":"rect","clip":true,"strokeWidth":0.6},
   "encoding":{
    "x":{"field":"t0","type":"quantitative","scale":{"domain":[1808.5,1814.5],"nice":false,"zero":false},"axis":{"orient":"bottom","values":[1809,1810,1811,1812,1813,1814],"format":"d","tickSize":6,"labelPadding":19,"labelBaseline":"alphabetic","title":"time","titleFontSize":16,"titleX":166,"titleY":50,"titleBaseline":"alphabetic","titleAlign":"center","titleAngle":0}},
    "x2":{"field":"t1"},
    "y":{"field":"y0","type":"quantitative","scale":{"domain":[-90,90],"nice":false,"zero":false},"axis":{"orient":"left","values":[-60,-30,0,30,60],"labelExpr":"datum.value > 0 ? datum.value + 'N' : datum.value < 0 ? (-datum.value) + 'S' : '0'","tickSize":7,"labelPadding":11,"title":null}},
    "y2":{"field":"y1"},
    "color":{"field":"v","type":"quantitative","scale":{"type":"threshold","domain":[-3,-2.75,-2.5,-2.25,-2,-1.75,-1.5,-1.25,-1,-0.75,-0.5,-0.25,0,0.25,0.5],"range":["#3b4cc0","#4054c7","#465ccf","#4d65d6","#556fdc","#5e7ae3","#6886ea","#7292ef","#7d9ef3","#89aaf6","#96b5f8","#a4c0f9","#b7cef8","#e5d8cf","#f3c5aa","#f6ac8a"]},
     "legend":{"type":"gradient","orient":"none","legendX":148,"legendY":856,"direction":"horizontal","gradientLength":391,"gradientThickness":15,"gradientStrokeColor":"#333333","gradientStrokeWidth":0.6,"labelFontSize":22,"labelColor":"black","labelOffset":2,"labelExpr":"abs(datum.value*2 - round(datum.value*2)) < 0.001 ? (datum.value < 0 ? '-' : '') + format(abs(datum.value), '~g') : ''","title":["","(°C)"],"titleOrient":"right","titleFontSize":24,"titleFontWeight":"normal","titleColor":"black","titlePadding":8,"titleAnchor":"start","titleBaseline":"top","titleLineHeight":9}},
    "stroke":{"field":"v","type":"quantitative","scale":{"type":"threshold","domain":[-3,-2.75,-2.5,-2.25,-2,-1.75,-1.5,-1.25,-1,-0.75,-0.5,-0.25,0,0.25,0.5],"range":["#3b4cc0","#4054c7","#465ccf","#4d65d6","#556fdc","#5e7ae3","#6886ea","#7292ef","#7d9ef3","#89aaf6","#96b5f8","#a4c0f9","#b7cef8","#e5d8cf","#f3c5aa","#f6ac8a"]},"legend":null}}},
  {"data":{"values":[{}]},"mark":{"type":"point","opacity":0},
   "encoding":{"x":{"datum":1811,"type":"quantitative","scale":{"domain":[1808.5,1814.5],"nice":false,"zero":false},"axis":{"orient":"top","values":[1809,1810,1811,1812,1813,1814],"labels":false,"tickSize":6,"title":"ocean","titleFontSize":19,"titleAngle":0,"titleAlign":"right","titleBaseline":"alphabetic","titleX":332,"titleY":-8}},
    "y":{"datum":0,"type":"quantitative","scale":{"domain":[-90,90],"nice":false,"zero":false},"axis":{"orient":"right","values":[-60,-30,0,30,60],"labels":false,"tickSize":6,"title":null}}}},
  {"data":{"values":[{}]},"mark":{"type":"point","opacity":0},
   "encoding":{"x":{"datum":1811,"type":"quantitative","scale":{"domain":[1808.5,1814.5],"nice":false,"zero":false},"axis":{"orient":"bottom","values":[1808.6,1808.8,1809.2,1809.4,1809.6,1809.8,1810.2,1810.4,1810.6,1810.8,1811.2,1811.4,1811.6,1811.8,1812.2,1812.4,1812.6,1812.8,1813.2,1813.4,1813.6,1813.8,1814.2,1814.4],"labels":false,"tickSize":3,"domain":false,"title":null}},
    "y":{"datum":0,"type":"quantitative","scale":{"domain":[-90,90],"nice":false,"zero":false},"axis":{"orient":"left","values":[-80,-70,-50,-40,-20,-10,10,20,40,50,70,80],"labels":false,"tickSize":4,"domain":false,"title":null}}}},
  {"data":{"values":[{}]},"mark":{"type":"point","opacity":0},
   "encoding":{"x":{"datum":1811,"type":"quantitative","scale":{"domain":[1808.5,1814.5],"nice":false,"zero":false},"axis":{"orient":"top","values":[1808.6,1808.8,1809.2,1809.4,1809.6,1809.8,1810.2,1810.4,1810.6,1810.8,1811.2,1811.4,1811.6,1811.8,1812.2,1812.4,1812.6,1812.8,1813.2,1813.4,1813.6,1813.8,1814.2,1814.4],"labels":false,"tickSize":3,"domain":false,"title":null}},
    "y":{"datum":0,"type":"quantitative","scale":{"domain":[-90,90],"nice":false,"zero":false},"axis":{"orient":"right","values":[-80,-70,-50,-40,-20,-10,10,20,40,50,70,80],"labels":false,"tickSize":3,"domain":false,"title":null}}}}
 ],
 "resolve":{"axis":{"x":"independent","y":"independent"}}},
{"width":332,"height":143,"transform":[{"filter":"datum.p == 5"}],
 "layer":[
  {"mark":{"type":"rect","clip":true,"strokeWidth":0.6},
   "encoding":{
    "x":{"field":"t0","type":"quantitative","scale":{"domain":[1808.5,1814.5],"nice":false,"zero":false},"axis":{"orient":"bottom","values":[1809,1810,1811,1812,1813,1814],"format":"d","tickSize":6,"labelPadding":19,"labelBaseline":"alphabetic","title":"time","titleFontSize":16,"titleX":166,"titleY":50,"titleBaseline":"alphabetic","titleAlign":"center","titleAngle":0}},
    "x2":{"field":"t1"},
    "y":{"field":"y0","type":"quantitative","scale":{"domain":[-90,90],"nice":false,"zero":false},"axis":{"orient":"left","values":[-60,-30,0,30,60],"labelExpr":"datum.value > 0 ? datum.value + 'N' : datum.value < 0 ? (-datum.value) + 'S' : '0'","tickSize":7,"labelPadding":11,"title":"High","titleFontSize":19,"titleAngle":0,"titleAlign":"left","titleBaseline":"alphabetic","titleX":0,"titleY":-8}},
    "y2":{"field":"y1"},
    "color":{"field":"v","type":"quantitative","scale":{"type":"threshold","domain":[-3,-2.75,-2.5,-2.25,-2,-1.75,-1.5,-1.25,-1,-0.75,-0.5,-0.25,0,0.25,0.5],"range":["#3b4cc0","#4054c7","#465ccf","#4d65d6","#556fdc","#5e7ae3","#6886ea","#7292ef","#7d9ef3","#89aaf6","#96b5f8","#a4c0f9","#b7cef8","#e5d8cf","#f3c5aa","#f6ac8a"]},
     "legend":{"type":"gradient","orient":"none","legendX":148,"legendY":856,"direction":"horizontal","gradientLength":391,"gradientThickness":15,"gradientStrokeColor":"#333333","gradientStrokeWidth":0.6,"labelFontSize":22,"labelColor":"black","labelOffset":2,"labelExpr":"abs(datum.value*2 - round(datum.value*2)) < 0.001 ? (datum.value < 0 ? '-' : '') + format(abs(datum.value), '~g') : ''","title":["","(°C)"],"titleOrient":"right","titleFontSize":24,"titleFontWeight":"normal","titleColor":"black","titlePadding":8,"titleAnchor":"start","titleBaseline":"top","titleLineHeight":9}},
    "stroke":{"field":"v","type":"quantitative","scale":{"type":"threshold","domain":[-3,-2.75,-2.5,-2.25,-2,-1.75,-1.5,-1.25,-1,-0.75,-0.5,-0.25,0,0.25,0.5],"range":["#3b4cc0","#4054c7","#465ccf","#4d65d6","#556fdc","#5e7ae3","#6886ea","#7292ef","#7d9ef3","#89aaf6","#96b5f8","#a4c0f9","#b7cef8","#e5d8cf","#f3c5aa","#f6ac8a"]},"legend":null}}},
  {"data":{"values":[{}]},"mark":{"type":"point","opacity":0},
   "encoding":{"x":{"datum":1811,"type":"quantitative","scale":{"domain":[1808.5,1814.5],"nice":false,"zero":false},"axis":{"orient":"top","values":[1809,1810,1811,1812,1813,1814],"labels":false,"tickSize":6,"title":"land","titleFontSize":19,"titleAngle":0,"titleAlign":"right","titleBaseline":"alphabetic","titleX":332,"titleY":-8}},
    "y":{"datum":0,"type":"quantitative","scale":{"domain":[-90,90],"nice":false,"zero":false},"axis":{"orient":"right","values":[-60,-30,0,30,60],"labels":false,"tickSize":6,"title":null}}}},
  {"data":{"values":[{}]},"mark":{"type":"point","opacity":0},
   "encoding":{"x":{"datum":1811,"type":"quantitative","scale":{"domain":[1808.5,1814.5],"nice":false,"zero":false},"axis":{"orient":"bottom","values":[1808.6,1808.8,1809.2,1809.4,1809.6,1809.8,1810.2,1810.4,1810.6,1810.8,1811.2,1811.4,1811.6,1811.8,1812.2,1812.4,1812.6,1812.8,1813.2,1813.4,1813.6,1813.8,1814.2,1814.4],"labels":false,"tickSize":3,"domain":false,"title":null}},
    "y":{"datum":0,"type":"quantitative","scale":{"domain":[-90,90],"nice":false,"zero":false},"axis":{"orient":"left","values":[-80,-70,-50,-40,-20,-10,10,20,40,50,70,80],"labels":false,"tickSize":4,"domain":false,"title":null}}}},
  {"data":{"values":[{}]},"mark":{"type":"point","opacity":0},
   "encoding":{"x":{"datum":1811,"type":"quantitative","scale":{"domain":[1808.5,1814.5],"nice":false,"zero":false},"axis":{"orient":"top","values":[1808.6,1808.8,1809.2,1809.4,1809.6,1809.8,1810.2,1810.4,1810.6,1810.8,1811.2,1811.4,1811.6,1811.8,1812.2,1812.4,1812.6,1812.8,1813.2,1813.4,1813.6,1813.8,1814.2,1814.4],"labels":false,"tickSize":3,"domain":false,"title":null}},
    "y":{"datum":0,"type":"quantitative","scale":{"domain":[-90,90],"nice":false,"zero":false},"axis":{"orient":"right","values":[-80,-70,-50,-40,-20,-10,10,20,40,50,70,80],"labels":false,"tickSize":3,"domain":false,"title":null}}}}
 ],
 "resolve":{"axis":{"x":"independent","y":"independent"}}},
{"width":332,"height":143,"transform":[{"filter":"datum.p == 6"}],
 "layer":[
  {"mark":{"type":"rect","clip":true,"strokeWidth":0.6},
   "encoding":{
    "x":{"field":"t0","type":"quantitative","scale":{"domain":[1808.5,1814.5],"nice":false,"zero":false},"axis":{"orient":"bottom","values":[1809,1810,1811,1812,1813,1814],"format":"d","tickSize":6,"labelPadding":19,"labelBaseline":"alphabetic","title":"time","titleFontSize":16,"titleX":166,"titleY":50,"titleBaseline":"alphabetic","titleAlign":"center","titleAngle":0}},
    "x2":{"field":"t1"},
    "y":{"field":"y0","type":"quantitative","scale":{"domain":[-90,90],"nice":false,"zero":false},"axis":{"orient":"left","values":[-60,-30,0,30,60],"labelExpr":"datum.value > 0 ? datum.value + 'N' : datum.value < 0 ? (-datum.value) + 'S' : '0'","tickSize":7,"labelPadding":11,"title":null}},
    "y2":{"field":"y1"},
    "color":{"field":"v","type":"quantitative","scale":{"type":"threshold","domain":[-3,-2.75,-2.5,-2.25,-2,-1.75,-1.5,-1.25,-1,-0.75,-0.5,-0.25,0,0.25,0.5],"range":["#3b4cc0","#4054c7","#465ccf","#4d65d6","#556fdc","#5e7ae3","#6886ea","#7292ef","#7d9ef3","#89aaf6","#96b5f8","#a4c0f9","#b7cef8","#e5d8cf","#f3c5aa","#f6ac8a"]},
     "legend":{"type":"gradient","orient":"none","legendX":148,"legendY":856,"direction":"horizontal","gradientLength":391,"gradientThickness":15,"gradientStrokeColor":"#333333","gradientStrokeWidth":0.6,"labelFontSize":22,"labelColor":"black","labelOffset":2,"labelExpr":"abs(datum.value*2 - round(datum.value*2)) < 0.001 ? (datum.value < 0 ? '-' : '') + format(abs(datum.value), '~g') : ''","title":["","(°C)"],"titleOrient":"right","titleFontSize":24,"titleFontWeight":"normal","titleColor":"black","titlePadding":8,"titleAnchor":"start","titleBaseline":"top","titleLineHeight":9}},
    "stroke":{"field":"v","type":"quantitative","scale":{"type":"threshold","domain":[-3,-2.75,-2.5,-2.25,-2,-1.75,-1.5,-1.25,-1,-0.75,-0.5,-0.25,0,0.25,0.5],"range":["#3b4cc0","#4054c7","#465ccf","#4d65d6","#556fdc","#5e7ae3","#6886ea","#7292ef","#7d9ef3","#89aaf6","#96b5f8","#a4c0f9","#b7cef8","#e5d8cf","#f3c5aa","#f6ac8a"]},"legend":null}}},
  {"data":{"values":[{}]},"mark":{"type":"point","opacity":0},
   "encoding":{"x":{"datum":1811,"type":"quantitative","scale":{"domain":[1808.5,1814.5],"nice":false,"zero":false},"axis":{"orient":"top","values":[1809,1810,1811,1812,1813,1814],"labels":false,"tickSize":6,"title":"ocean","titleFontSize":19,"titleAngle":0,"titleAlign":"right","titleBaseline":"alphabetic","titleX":332,"titleY":-8}},
    "y":{"datum":0,"type":"quantitative","scale":{"domain":[-90,90],"nice":false,"zero":false},"axis":{"orient":"right","values":[-60,-30,0,30,60],"labels":false,"tickSize":6,"title":null}}}},
  {"data":{"values":[{}]},"mark":{"type":"point","opacity":0},
   "encoding":{"x":{"datum":1811,"type":"quantitative","scale":{"domain":[1808.5,1814.5],"nice":false,"zero":false},"axis":{"orient":"bottom","values":[1808.6,1808.8,1809.2,1809.4,1809.6,1809.8,1810.2,1810.4,1810.6,1810.8,1811.2,1811.4,1811.6,1811.8,1812.2,1812.4,1812.6,1812.8,1813.2,1813.4,1813.6,1813.8,1814.2,1814.4],"labels":false,"tickSize":3,"domain":false,"title":null}},
    "y":{"datum":0,"type":"quantitative","scale":{"domain":[-90,90],"nice":false,"zero":false},"axis":{"orient":"left","values":[-80,-70,-50,-40,-20,-10,10,20,40,50,70,80],"labels":false,"tickSize":4,"domain":false,"title":null}}}},
  {"data":{"values":[{}]},"mark":{"type":"point","opacity":0},
   "encoding":{"x":{"datum":1811,"type":"quantitative","scale":{"domain":[1808.5,1814.5],"nice":false,"zero":false},"axis":{"orient":"top","values":[1808.6,1808.8,1809.2,1809.4,1809.6,1809.8,1810.2,1810.4,1810.6,1810.8,1811.2,1811.4,1811.6,1811.8,1812.2,1812.4,1812.6,1812.8,1813.2,1813.4,1813.6,1813.8,1814.2,1814.4],"labels":false,"tickSize":3,"domain":false,"title":null}},
    "y":{"datum":0,"type":"quantitative","scale":{"domain":[-90,90],"nice":false,"zero":false},"axis":{"orient":"right","values":[-80,-70,-50,-40,-20,-10,10,20,40,50,70,80],"labels":false,"tickSize":3,"domain":false,"title":null}}}}
 ],
 "resolve":{"axis":{"x":"independent","y":"independent"}}},
{"width":332,"height":143,"transform":[{"filter":"datum.p == 7"}],
 "layer":[
  {"mark":{"type":"rect","clip":true,"strokeWidth":0.6},
   "encoding":{
    "x":{"field":"t0","type":"quantitative","scale":{"domain":[1808.5,1814.5],"nice":false,"zero":false},"axis":{"orient":"bottom","values":[1809,1810,1811,1812,1813,1814],"format":"d","tickSize":6,"labelPadding":19,"labelBaseline":"alphabetic","title":"time","titleFontSize":16,"titleX":166,"titleY":50,"titleBaseline":"alphabetic","titleAlign":"center","titleAngle":0}},
    "x2":{"field":"t1"},
    "y":{"field":"y0","type":"quantitative","scale":{"domain":[-90,90],"nice":false,"zero":false},"axis":{"orient":"left","values":[-60,-30,0,30,60],"labelExpr":"datum.value > 0 ? datum.value + 'N' : datum.value < 0 ? (-datum.value) + 'S' : '0'","tickSize":7,"labelPadding":11,"title":"nNHP","titleFontSize":19,"titleAngle":0,"titleAlign":"left","titleBaseline":"alphabetic","titleX":0,"titleY":-8}},
    "y2":{"field":"y1"},
    "color":{"field":"v","type":"quantitative","scale":{"type":"threshold","domain":[-3,-2.75,-2.5,-2.25,-2,-1.75,-1.5,-1.25,-1,-0.75,-0.5,-0.25,0,0.25,0.5],"range":["#3b4cc0","#4054c7","#465ccf","#4d65d6","#556fdc","#5e7ae3","#6886ea","#7292ef","#7d9ef3","#89aaf6","#96b5f8","#a4c0f9","#b7cef8","#e5d8cf","#f3c5aa","#f6ac8a"]},
     "legend":{"type":"gradient","orient":"none","legendX":148,"legendY":856,"direction":"horizontal","gradientLength":391,"gradientThickness":15,"gradientStrokeColor":"#333333","gradientStrokeWidth":0.6,"labelFontSize":22,"labelColor":"black","labelOffset":2,"labelExpr":"abs(datum.value*2 - round(datum.value*2)) < 0.001 ? (datum.value < 0 ? '-' : '') + format(abs(datum.value), '~g') : ''","title":["","(°C)"],"titleOrient":"right","titleFontSize":24,"titleFontWeight":"normal","titleColor":"black","titlePadding":8,"titleAnchor":"start","titleBaseline":"top","titleLineHeight":9}},
    "stroke":{"field":"v","type":"quantitative","scale":{"type":"threshold","domain":[-3,-2.75,-2.5,-2.25,-2,-1.75,-1.5,-1.25,-1,-0.75,-0.5,-0.25,0,0.25,0.5],"range":["#3b4cc0","#4054c7","#465ccf","#4d65d6","#556fdc","#5e7ae3","#6886ea","#7292ef","#7d9ef3","#89aaf6","#96b5f8","#a4c0f9","#b7cef8","#e5d8cf","#f3c5aa","#f6ac8a"]},"legend":null}}},
  {"data":{"values":[{}]},"mark":{"type":"point","opacity":0},
   "encoding":{"x":{"datum":1811,"type":"quantitative","scale":{"domain":[1808.5,1814.5],"nice":false,"zero":false},"axis":{"orient":"top","values":[1809,1810,1811,1812,1813,1814],"labels":false,"tickSize":6,"title":"land","titleFontSize":19,"titleAngle":0,"titleAlign":"right","titleBaseline":"alphabetic","titleX":332,"titleY":-8}},
    "y":{"datum":0,"type":"quantitative","scale":{"domain":[-90,90],"nice":false,"zero":false},"axis":{"orient":"right","values":[-60,-30,0,30,60],"labels":false,"tickSize":6,"title":null}}}},
  {"data":{"values":[{}]},"mark":{"type":"point","opacity":0},
   "encoding":{"x":{"datum":1811,"type":"quantitative","scale":{"domain":[1808.5,1814.5],"nice":false,"zero":false},"axis":{"orient":"bottom","values":[1808.6,1808.8,1809.2,1809.4,1809.6,1809.8,1810.2,1810.4,1810.6,1810.8,1811.2,1811.4,1811.6,1811.8,1812.2,1812.4,1812.6,1812.8,1813.2,1813.4,1813.6,1813.8,1814.2,1814.4],"labels":false,"tickSize":3,"domain":false,"title":null}},
    "y":{"datum":0,"type":"quantitative","scale":{"domain":[-90,90],"nice":false,"zero":false},"axis":{"orient":"left","values":[-80,-70,-50,-40,-20,-10,10,20,40,50,70,80],"labels":false,"tickSize":4,"domain":false,"title":null}}}},
  {"data":{"values":[{}]},"mark":{"type":"point","opacity":0},
   "encoding":{"x":{"datum":1811,"type":"quantitative","scale":{"domain":[1808.5,1814.5],"nice":false,"zero":false},"axis":{"orient":"top","values":[1808.6,1808.8,1809.2,1809.4,1809.6,1809.8,1810.2,1810.4,1810.6,1810.8,1811.2,1811.4,1811.6,1811.8,1812.2,1812.4,1812.6,1812.8,1813.2,1813.4,1813.6,1813.8,1814.2,1814.4],"labels":false,"tickSize":3,"domain":false,"title":null}},
    "y":{"datum":0,"type":"quantitative","scale":{"domain":[-90,90],"nice":false,"zero":false},"axis":{"orient":"right","values":[-80,-70,-50,-40,-20,-10,10,20,40,50,70,80],"labels":false,"tickSize":3,"domain":false,"title":null}}}}
 ],
 "resolve":{"axis":{"x":"independent","y":"independent"}}},
{"width":332,"height":143,"transform":[{"filter":"datum.p == 8"}],
 "layer":[
  {"mark":{"type":"rect","clip":true,"strokeWidth":0.6},
   "encoding":{
    "x":{"field":"t0","type":"quantitative","scale":{"domain":[1808.5,1814.5],"nice":false,"zero":false},"axis":{"orient":"bottom","values":[1809,1810,1811,1812,1813,1814],"format":"d","tickSize":6,"labelPadding":19,"labelBaseline":"alphabetic","title":"time","titleFontSize":16,"titleX":166,"titleY":50,"titleBaseline":"alphabetic","titleAlign":"center","titleAngle":0}},
    "x2":{"field":"t1"},
    "y":{"field":"y0","type":"quantitative","scale":{"domain":[-90,90],"nice":false,"zero":false},"axis":{"orient":"left","values":[-60,-30,0,30,60],"labelExpr":"datum.value > 0 ? datum.value + 'N' : datum.value < 0 ? (-datum.value) + 'S' : '0'","tickSize":7,"labelPadding":11,"title":null}},
    "y2":{"field":"y1"},
    "color":{"field":"v","type":"quantitative","scale":{"type":"threshold","domain":[-3,-2.75,-2.5,-2.25,-2,-1.75,-1.5,-1.25,-1,-0.75,-0.5,-0.25,0,0.25,0.5],"range":["#3b4cc0","#4054c7","#465ccf","#4d65d6","#556fdc","#5e7ae3","#6886ea","#7292ef","#7d9ef3","#89aaf6","#96b5f8","#a4c0f9","#b7cef8","#e5d8cf","#f3c5aa","#f6ac8a"]},
     "legend":{"type":"gradient","orient":"none","legendX":148,"legendY":856,"direction":"horizontal","gradientLength":391,"gradientThickness":15,"gradientStrokeColor":"#333333","gradientStrokeWidth":0.6,"labelFontSize":22,"labelColor":"black","labelOffset":2,"labelExpr":"abs(datum.value*2 - round(datum.value*2)) < 0.001 ? (datum.value < 0 ? '-' : '') + format(abs(datum.value), '~g') : ''","title":["","(°C)"],"titleOrient":"right","titleFontSize":24,"titleFontWeight":"normal","titleColor":"black","titlePadding":8,"titleAnchor":"start","titleBaseline":"top","titleLineHeight":9}},
    "stroke":{"field":"v","type":"quantitative","scale":{"type":"threshold","domain":[-3,-2.75,-2.5,-2.25,-2,-1.75,-1.5,-1.25,-1,-0.75,-0.5,-0.25,0,0.25,0.5],"range":["#3b4cc0","#4054c7","#465ccf","#4d65d6","#556fdc","#5e7ae3","#6886ea","#7292ef","#7d9ef3","#89aaf6","#96b5f8","#a4c0f9","#b7cef8","#e5d8cf","#f3c5aa","#f6ac8a"]},"legend":null}}},
  {"data":{"values":[{}]},"mark":{"type":"point","opacity":0},
   "encoding":{"x":{"datum":1811,"type":"quantitative","scale":{"domain":[1808.5,1814.5],"nice":false,"zero":false},"axis":{"orient":"top","values":[1809,1810,1811,1812,1813,1814],"labels":false,"tickSize":6,"title":"ocean","titleFontSize":19,"titleAngle":0,"titleAlign":"right","titleBaseline":"alphabetic","titleX":332,"titleY":-8}},
    "y":{"datum":0,"type":"quantitative","scale":{"domain":[-90,90],"nice":false,"zero":false},"axis":{"orient":"right","values":[-60,-30,0,30,60],"labels":false,"tickSize":6,"title":null}}}},
  {"data":{"values":[{}]},"mark":{"type":"point","opacity":0},
   "encoding":{"x":{"datum":1811,"type":"quantitative","scale":{"domain":[1808.5,1814.5],"nice":false,"zero":false},"axis":{"orient":"bottom","values":[1808.6,1808.8,1809.2,1809.4,1809.6,1809.8,1810.2,1810.4,1810.6,1810.8,1811.2,1811.4,1811.6,1811.8,1812.2,1812.4,1812.6,1812.8,1813.2,1813.4,1813.6,1813.8,1814.2,1814.4],"labels":false,"tickSize":3,"domain":false,"title":null}},
    "y":{"datum":0,"type":"quantitative","scale":{"domain":[-90,90],"nice":false,"zero":false},"axis":{"orient":"left","values":[-80,-70,-50,-40,-20,-10,10,20,40,50,70,80],"labels":false,"tickSize":4,"domain":false,"title":null}}}},
  {"data":{"values":[{}]},"mark":{"type":"point","opacity":0},
   "encoding":{"x":{"datum":1811,"type":"quantitative","scale":{"domain":[1808.5,1814.5],"nice":false,"zero":false},"axis":{"orient":"top","values":[1808.6,1808.8,1809.2,1809.4,1809.6,1809.8,1810.2,1810.4,1810.6,1810.8,1811.2,1811.4,1811.6,1811.8,1812.2,1812.4,1812.6,1812.8,1813.2,1813.4,1813.6,1813.8,1814.2,1814.4],"labels":false,"tickSize":3,"domain":false,"title":null}},
    "y":{"datum":0,"type":"quantitative","scale":{"domain":[-90,90],"nice":false,"zero":false},"axis":{"orient":"right","values":[-80,-70,-50,-40,-20,-10,10,20,40,50,70,80],"labels":false,"tickSize":3,"domain":false,"title":null}}}}
 ],
 "resolve":{"axis":{"x":"independent","y":"independent"}}}
]
}
